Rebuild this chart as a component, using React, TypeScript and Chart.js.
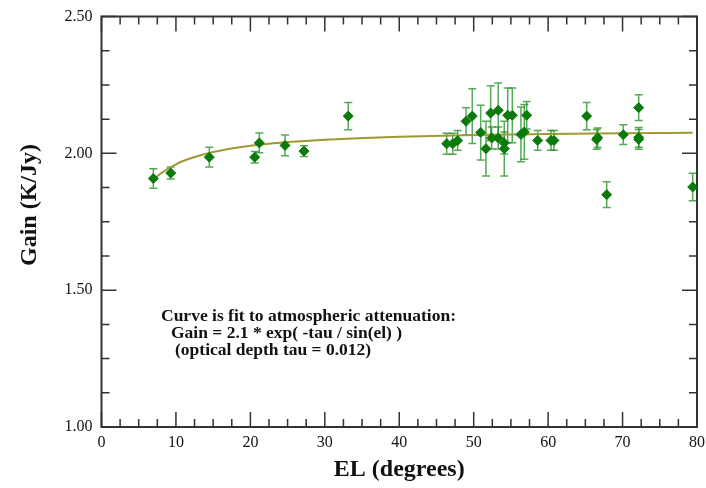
import React, { useEffect, useRef } from 'react';
import { Chart, registerables } from 'chart.js';

Chart.register(...registerables);

// ---- data ----
const elDeg = [6.96, 9.3, 14.48, 20.58, 21.2, 24.65, 27.2, 33.15, 46.37, 47.18, 47.85, 48.97, 49.81, 50.94, 51.65, 52.28, 52.42, 53.3, 53.3, 54.11, 54.11, 54.57, 55.19, 56.35, 56.8, 57.12, 58.6, 60.38, 60.79, 65.18, 66.52, 66.66, 67.87, 70.1, 72.17, 72.17, 72.17, 79.42];
const gain = [1.908, 1.928, 1.986, 1.986, 2.038, 2.029, 2.008, 2.136, 2.035, 2.035, 2.047, 2.117, 2.136, 2.076, 2.017, 2.147, 2.056, 2.157, 2.056, 2.038, 2.017, 2.139, 2.139, 2.069, 2.078, 2.139, 2.047, 2.047, 2.047, 2.136, 2.051, 2.057, 1.849, 2.068, 2.051, 2.058, 2.167, 1.877];
const gainErr = [0.036, 0.022, 0.036, 0.021, 0.036, 0.038, 0.02, 0.05, 0.038, 0.038, 0.036, 0.05, 0.1, 0.1, 0.1, 0.1, 0.04, 0.1, 0.04, 0.04, 0.1, 0.1, 0.1, 0.1, 0.1, 0.05, 0.036, 0.036, 0.036, 0.05, 0.036, 0.036, 0.047, 0.036, 0.036, 0.036, 0.047, 0.05];

const curveEl = [6.96, 8, 10, 12, 15, 20, 25, 30, 40, 50, 60, 70, 79.42];
const curveGain = [1.903, 1.927, 1.96, 1.982, 2.005, 2.028, 2.041, 2.05, 2.061, 2.067, 2.071, 2.073, 2.075];

const xTitle = 'EL (degrees)';
const yTitle = 'Gain (K/Jy)';
const noteLines = [
  'Curve is fit to atmospheric attenuation:',
  'Gain = 2.1 * exp( -tau / sin(el) )',
  '(optical depth tau = 0.012)',
];

const SERIF = "'Liberation Serif', 'Times New Roman', serif";

const errorBarPlugin = {
  id: 'errorBars',
  beforeDatasetsDraw(chart: any) {
    const { ctx, scales } = chart;
    const xs = scales.x, ys = scales.y;
    ctx.save();
    ctx.strokeStyle = 'rgba(30,140,30,0.75)';
    ctx.lineWidth = 1.5;
    for (let i = 0; i < elDeg.length; i++) {
      const px = xs.getPixelForValue(elDeg[i]);
      const top = ys.getPixelForValue(gain[i] + gainErr[i]);
      const bot = ys.getPixelForValue(gain[i] - gainErr[i]);
      ctx.beginPath();
      ctx.moveTo(px, top); ctx.lineTo(px, bot);
      ctx.moveTo(px - 4, top); ctx.lineTo(px + 4, top);
      ctx.moveTo(px - 4, bot); ctx.lineTo(px + 4, bot);
      ctx.stroke();
    }
    ctx.restore();
  },
};

const framePlugin = {
  id: 'frame',
  beforeDatasetsDraw(chart: any) {
    const { ctx, chartArea: a, scales } = chart;
    const xs = scales.x, ys = scales.y;
    ctx.save();
    ctx.strokeStyle = '#333';
    ctx.lineWidth = 1.5;
    ctx.beginPath();
    for (let k = 0; k <= 12; k++) {
      const v = 1 + k * 0.125;
      const py = ys.getPixelForValue(v);
      const len = k % 4 === 0 ? 15 : 8;
      ctx.moveTo(a.left, py); ctx.lineTo(a.left + len, py);
      ctx.moveTo(a.right, py); ctx.lineTo(a.right - len, py);
    }
    for (let k = 0; k <= 32; k++) {
      const v = k * 2.5;
      const px = xs.getPixelForValue(v);
      const len = k % 4 === 0 ? 15 : 8;
      ctx.moveTo(px, a.bottom); ctx.lineTo(px, a.bottom - len);
      ctx.moveTo(px, a.top); ctx.lineTo(px, a.top + len);
    }
    ctx.stroke();
    ctx.lineWidth = 2;
    ctx.strokeRect(a.left, a.top, a.right - a.left, a.bottom - a.top);
    ctx.restore();
  },
};

const textPlugin = {
  id: 'texts',
  afterDraw(chart: any) {
    const { ctx, chartArea: a } = chart;
    ctx.save();
    ctx.fillStyle = '#111';
    ctx.font = `bold 24px ${SERIF}`;
    ctx.textAlign = 'center';
    ctx.textBaseline = 'middle';
    ctx.fillText(xTitle, (a.left + a.right) / 2, 470);
    ctx.save();
    ctx.translate(30, 205);
    ctx.rotate(-Math.PI / 2);
    ctx.fillText(yTitle, 0, 0);
    ctx.restore();
    ctx.font = `bold 17.5px ${SERIF}`;
    ctx.textAlign = 'left';
    ctx.textBaseline = 'alphabetic';
    const xs = [161, 171, 175];
    const ys = [321, 338, 355];
    noteLines.forEach((t, i) => ctx.fillText(t, xs[i], ys[i]));
    ctx.restore();
  },
};

export default function App() {
  const ref = useRef<HTMLCanvasElement>(null);
  useEffect(() => {
    const canvas = ref.current!;
    const chart = new Chart(canvas, {
      type: 'scatter',
      data: {
        datasets: [
          {
            type: 'line',
            data: curveEl.map((x, i) => ({ x, y: curveGain[i] })),
            borderColor: 'rgb(160,152,50)',
            borderWidth: 2,
            pointRadius: 0,
            cubicInterpolationMode: 'monotone',
            fill: false,
            order: 2,
          } as any,
          {
            data: elDeg.map((x, i) => ({ x, y: gain[i] })),
            pointStyle: 'rectRot',
            pointRadius: 5,
            backgroundColor: '#0a7a0a',
            borderColor: '#0a7a0a',
            borderWidth: 1,
            order: 1,
          },
        ],
      },
      options: {
        animation: false,
        responsive: false,
        events: [],
        plugins: { legend: { display: false }, tooltip: { enabled: false } },
        layout: { padding: { top: 16.5, right: 9, left: 0, bottom: 0 } },
        scales: {
          x: {
            type: 'linear',
            min: 0,
            max: 80,
            afterFit: (s: any) => { s.height = 61; s.paddingRight = 0; s.paddingLeft = 0; },
            ticks: { stepSize: 10, padding: 6, color: '#111', font: { family: SERIF, size: 16 }, maxRotation: 0, autoSkip: false },
            grid: { display: false, drawTicks: false, tickLength: 0 },
            border: { display: false },
          },
          y: {
            type: 'linear',
            min: 1,
            max: 2.5,
            afterFit: (s: any) => { s.width = 101.5; s.paddingTop = 0; s.paddingBottom = 0; },
            ticks: { stepSize: 0.5, padding: 9, color: '#111', font: { family: SERIF, size: 16 }, callback: (v: any) => Number(v).toFixed(2) },
            grid: { display: false, drawTicks: false, tickLength: 0 },
            border: { display: false },
          },
        },
      } as any,
      plugins: [framePlugin, errorBarPlugin, textPlugin],
    });
    return () => chart.destroy();
  }, []);
  return (
    <div style={{ position: 'fixed', left: 0, top: 0, width: 706, height: 488, background: '#fff' }}>
      <canvas ref={ref} width={706} height={488} />
    </div>
  );
}
